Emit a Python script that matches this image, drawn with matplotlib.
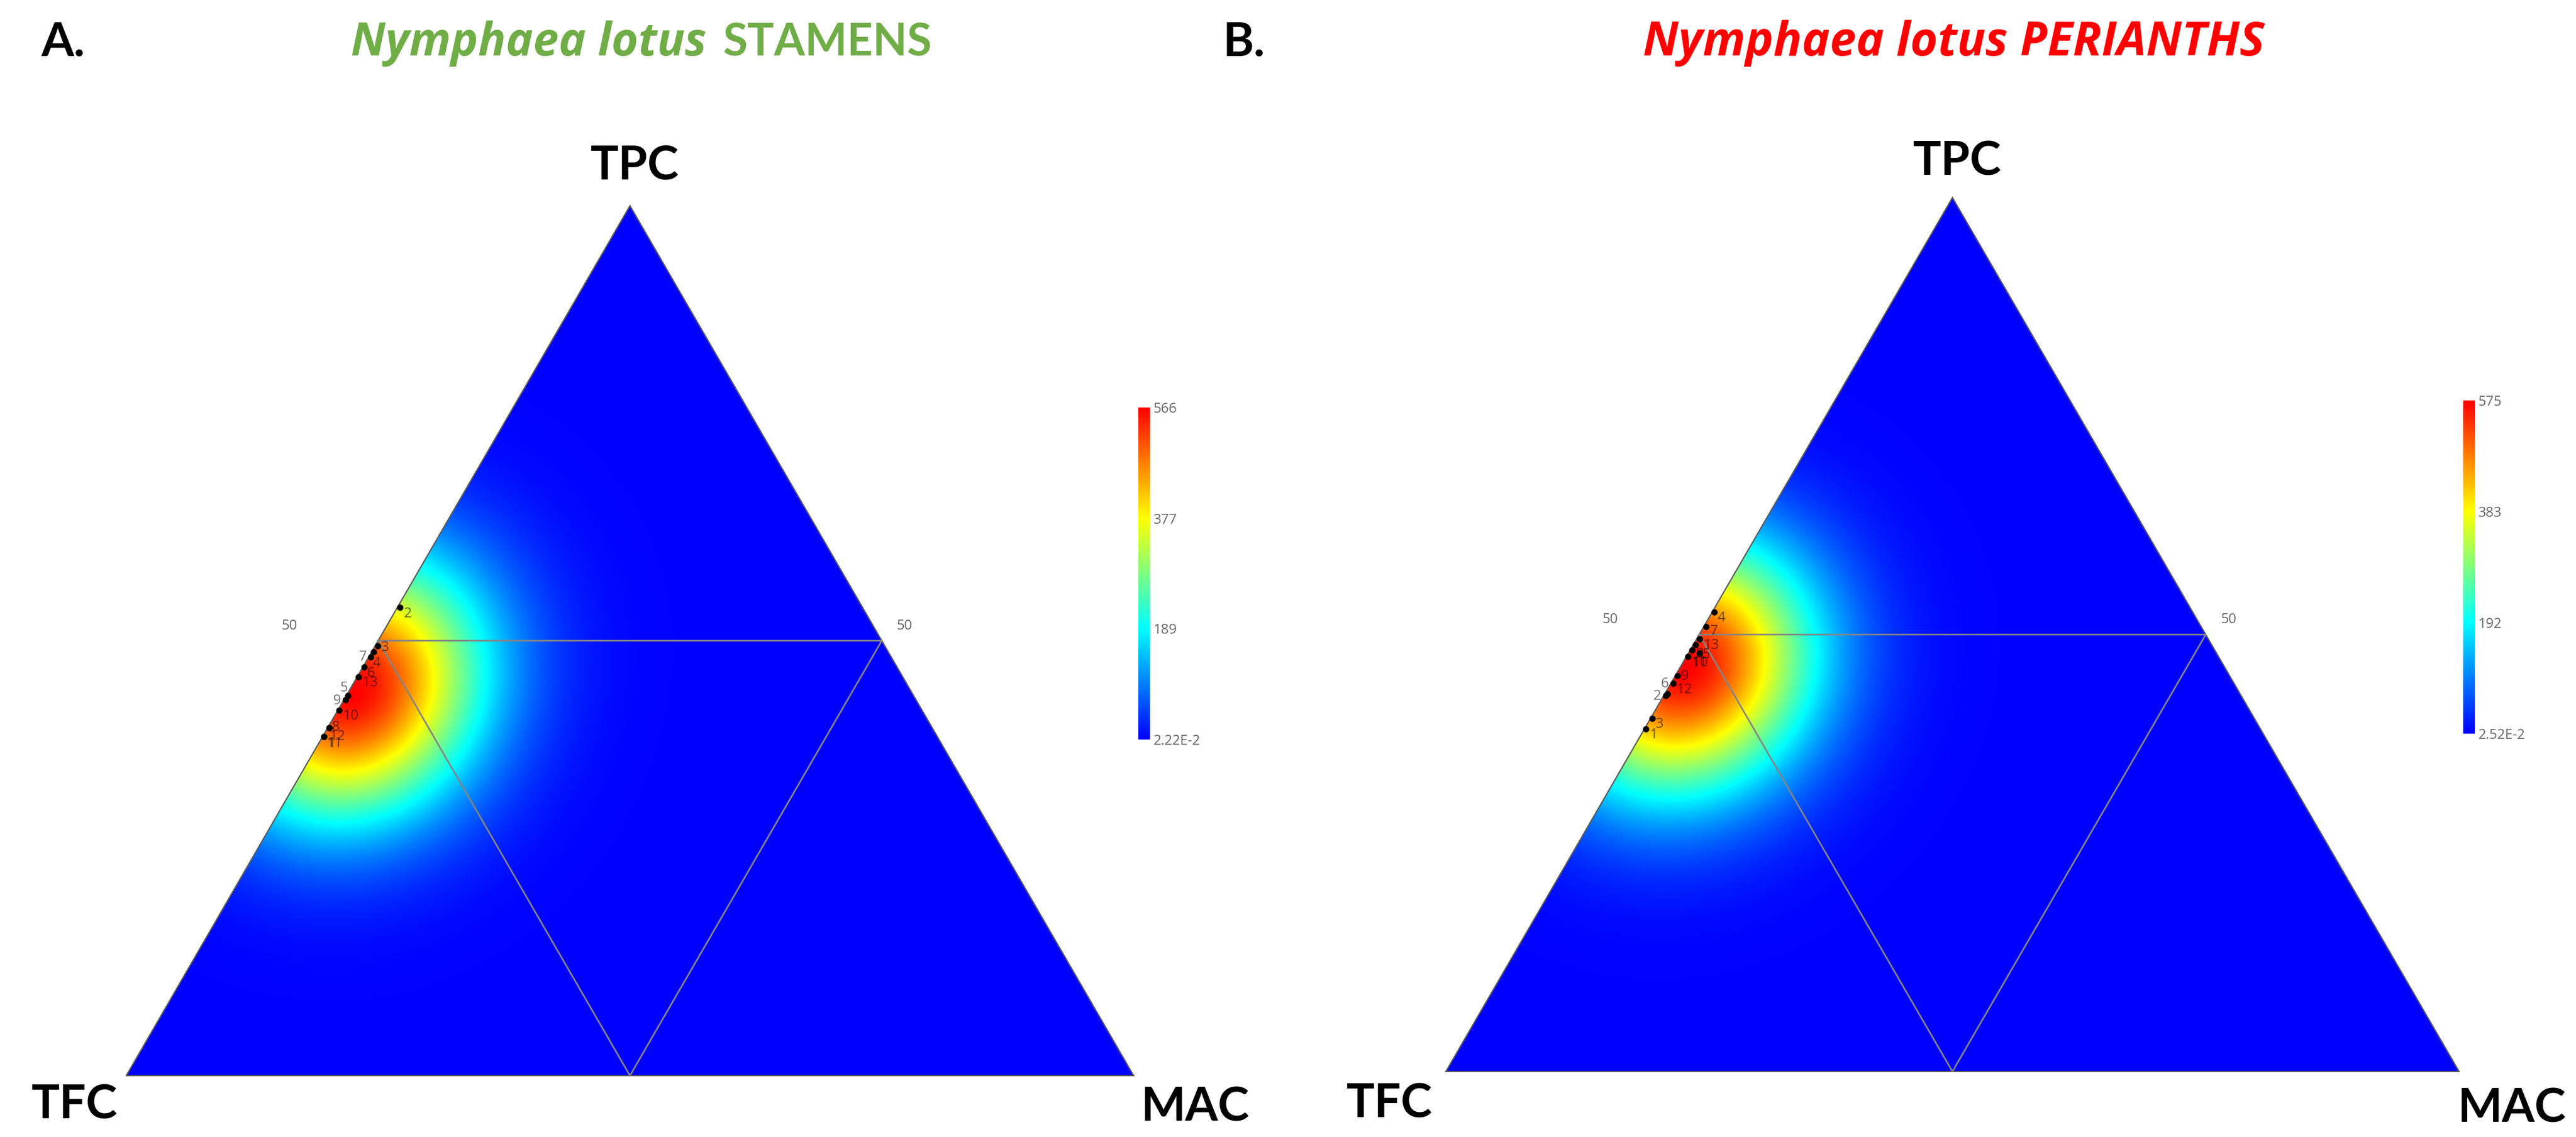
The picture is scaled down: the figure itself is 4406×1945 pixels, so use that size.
import numpy as np
import matplotlib
matplotlib.use("Agg")
import matplotlib.pyplot as plt
from matplotlib.colors import LinearSegmentedColormap
from matplotlib.patches import Polygon

W, H = 4406, 1945

# ---------- data (percent composition; label numbers) ----------
a_ids = ['2', '3', '4', '7', '6', '13', '5', '9', '10', '8', '12', '11', '1']
a_tpc = [53.8, 49.4, 48.7, 48.1, 47.0, 45.8, 43.7, 43.2, 42.0, 40.0, 40.0, 39.0, 39.0]
a_mac = [0.26, 0.24, 0.2, 0.2, 0.15, 0.13, 0.15, 0.15, 0.10, 0.12, 0.12, 0.10, 0.10]
a_vmin, a_vmax = 0.0222, 566
a_ticks = [0.0222, 189, 377, 566]
a_ticklabels = ['2.22E-2', '189', '377', '566']

b_ids = ['4', '7', '13', '5', '8', '10', '11', '9', '12', '6', '2', '3', '1']
b_tpc = [52.6, 50.9, 49.5, 48.8, 48.2, 47.5, 47.9, 45.3, 44.4, 43.2, 43.0, 40.4, 39.2]
b_mac = [0.17, 0.2, 0.3, 0.25, 0.2, 0.15, 1.1, 0.2, 0.23, 0.25, 0.2, 0.17, 0.13]
b_vmin, b_vmax = 0.0252, 575
b_ticks = [0.0252, 192, 383, 575]
b_ticklabels = ['2.52E-2', '192', '383', '575']

# ---------- layout / style ----------
a_box = dict(left=216, right=1939, top=352, base=1840)
b_box = dict(left=2473, right=4206, top=338, base=1833)
a_bar = (1947, 1967, 697, 1265)
b_bar = (4213, 4233, 685, 1255)
# label offsets from marker, in pixels (x right, y down)
a_off = [(14, 11), (13, 3), (5, 20), (-13, 0), (11, 11), (21, 10), (-7, -13), (-14, 2), (21, 10),
         (12, -1), (15, 15), (19, 12), (14, 12)]
b_off = [(13, 10), (14, 8), (20, 11), (18, 17), (14, 7), (21, 11), (-1, 17), (13, 1), (20, 11),
         (-4, -17), (-14, 1), (13, 10), (14, 10)]

cmap = LinearSegmentedColormap.from_list(
    'ternary_jet', ['#0000ff', '#00ffff', '#ffff00', '#ff0000'], N=512)
BW_X, BW_Y = 150.0, 140.0

fig = plt.figure(figsize=(W / 100, H / 100), dpi=100, facecolor='white')


def ax_px(x0, x1, y0, y1):
    return fig.add_axes([x0 / W, 1 - y1 / H, (x1 - x0) / W, (y1 - y0) / H])


def ftext(x, y, s, **kw):
    kw.setdefault('family', 'Lato')
    kw.setdefault('va', 'baseline')
    return fig.text(x / W, 1 - y / H, s, **kw)


def ternary(box, ids, tpc, mac, off, vmin, vmax, bar, ticks, ticklabels):
    width = box['right'] - box['left']
    height = box['base'] - box['top']
    ax = ax_px(box['left'], box['right'], box['top'], box['base'])
    ax.set_xlim(0, 1)
    ax.set_ylim(0, 1)
    ax.axis('off')
    tpc = np.asarray(tpc) / 100
    mac = np.asarray(mac) / 100
    px = mac + tpc / 2
    py = tpc

    gx, gy = np.meshgrid(np.linspace(0, 1, 900), np.linspace(0, 1, 800))
    dens = np.zeros_like(gx)
    for a, b in zip(px, py):
        dens += np.exp(-((gx - a) * width) ** 2 / (2 * BW_X ** 2)
                       - ((gy - b) * height) ** 2 / (2 * BW_Y ** 2))
    inside = (gy <= 2 * gx) & (gy <= 2 * (1 - gx))
    dens = dens / dens[inside].max()
    z = vmin + dens * (vmax - vmin)

    im = ax.imshow(z, extent=[0, 1, 0, 1], origin='lower', aspect='auto', cmap=cmap,
                   vmin=vmin, vmax=vmax, interpolation='bilinear')
    tri = Polygon([(0, 0), (1, 0), (0.5, 1)], closed=True, transform=ax.transData,
                  fc='none', ec='none')
    ax.add_patch(tri)
    im.set_clip_path(tri)
    ax.plot([0, 0.5, 1, 0], [0, 1, 0, 0], color='#5a5a5a', lw=1.6, clip_on=False, zorder=3,
            solid_joinstyle='miter')
    ax.plot([0.25, 0.75, 0.5, 0.25], [0.5, 0.5, 0, 0.5], color='#858585', lw=2.0, zorder=3)

    ax.scatter(px, py, s=60, c='black', linewidths=0, zorder=5, clip_on=False)
    for s, a, b, (dx, dy) in zip(ids, px, py, off):
        ax.annotate(s, (a, b), xytext=(dx * 0.72, -dy * 0.72), textcoords='offset points',
                    ha='center', va='center', fontsize=17, family='Open Sans',
                    color='black', alpha=0.55, zorder=6, annotation_clip=False)
    for xx in (0.162, 0.7725):
        ax.text(xx, 0.517, '50', ha='center', va='center', fontsize=17,
                family='Open Sans', color='#666666', clip_on=False)

    cax = ax_px(*bar)
    grad = np.linspace(vmin, vmax, 256).reshape(-1, 1)
    cax.imshow(grad, extent=[0, 1, vmin, vmax], origin='lower', aspect='auto', cmap=cmap,
               vmin=vmin, vmax=vmax)
    cax.set_xticks([])
    cax.yaxis.tick_right()
    cax.set_yticks(ticks)
    cax.set_yticklabels(ticklabels, family='Open Sans', fontsize=17, color='#666666')
    cax.tick_params(axis='y', length=0, pad=4)
    for sp in cax.spines.values():
        sp.set_visible(False)


ternary(a_box, a_ids, a_tpc, a_mac, a_off, a_vmin, a_vmax, a_bar, a_ticks, a_ticklabels)
ternary(b_box, b_ids, b_tpc, b_mac, b_off, b_vmin, b_vmax, b_bar, b_ticks, b_ticklabels)

# ---------- big text ----------
FS = 58
for x, y, s in [(70, 95, 'A.'), (2092, 95, 'B.'),
                (1010, 308, 'TPC'), (3272, 300, 'TPC'),
                (54, 1913, 'TFC'), (2303, 1911, 'TFC'),
                (1952, 1917, 'MAC'), (4203, 1919, 'MAC')]:
    ftext(x, y, s, fontsize=FS, fontweight='bold', color='black')

GREEN = '#70ad47'
ftext(600, 95, 'Nymphaea lotus', family='Open Sans', fontsize=56.5, fontweight='bold',
      style='italic', color=GREEN)
ftext(1236, 95, 'STAMENS', fontsize=55, fontweight='bold', color=GREEN)
ftext(2810, 95, 'Nymphaea lotus PERIANTHS', family='Open Sans', fontsize=58, fontweight='bold',
      style='italic', color='#ff0000')

fig.savefig('out.png', dpi=100, facecolor='white')
